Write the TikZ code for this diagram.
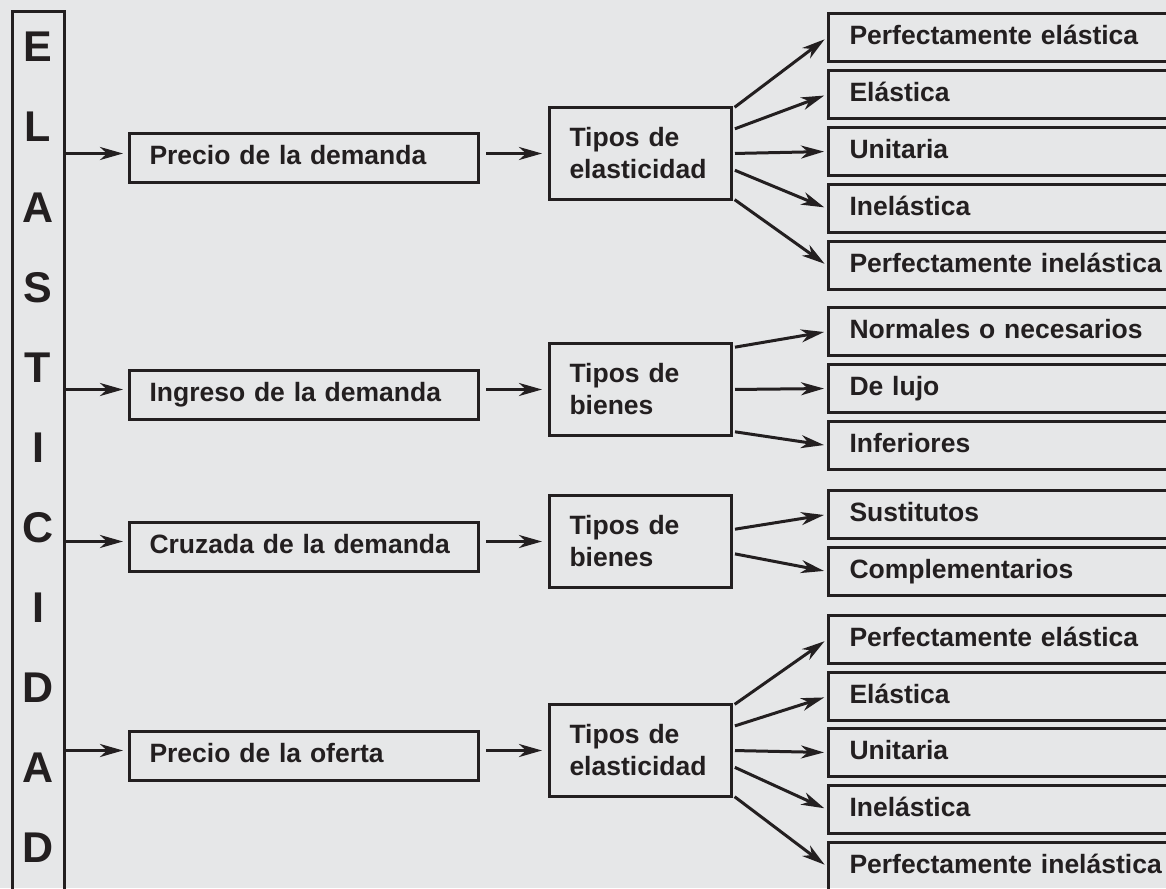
\documentclass[tikz,border=0pt]{standalone}
\usepackage{fontspec}
\setmainfont{Liberation Sans}
\usetikzlibrary{arrows.meta,calc}
\definecolor{bg}{HTML}{E6E7E8}
\definecolor{ink}{HTML}{231F20}
\begin{document}
\begin{tikzpicture}[x=1pt,y=-1pt,
  every node/.style={font=\fontsize{26.5}{32}\selectfont\bfseries, text=ink},
  box/.style={draw=ink, line width=3pt, rectangle, inner ysep=0pt},
  lvlone/.style={box, anchor=north west, inner xsep=20pt, text width=309pt, minimum height=49pt, align=left, text height=19pt, text depth=5.5pt},
  tipos/.style={box, anchor=north west, inner xsep=20pt, text width=142pt, minimum height=92pt, align=left},
  leaf/.style={box, anchor=north west, inner xsep=21pt, text width=321pt, minimum height=48pt, align=left, text height=19pt, text depth=5.5pt},
  letter/.style={font=\fontsize{43}{43}\selectfont\bfseries, anchor=base, inner sep=0pt},
  arr/.style={draw=ink, line width=3pt, -{Stealth[length=23pt,width=13pt,inset=7pt]}}
]
\useasboundingbox (0,0) rectangle (1166,888);
\clip (0,0) rectangle (1166,888);
\fill[bg] (0,0) rectangle (1166,888);

% left vertical box
\node[box, inner sep=0pt, minimum width=52pt, minimum height=883pt] (L) at (38,453.5) {};
\foreach \c [count=\i] in {E,L,A,S,T,I,C,I,D,A,D}
  \node[letter] (l\i) at (38,{62+80*(\i-1)}) {\c};

% level one
\node[lvlone] (b1) at (128,132) {Precio de la demanda};
\node[lvlone] (b2) at (128,369) {Ingreso de la demanda};
\node[lvlone] (b3) at (128,521) {Cruzada de la demanda};
\node[lvlone] (b4) at (128,730) {Precio de la oferta};

% level two
\node[tipos] (t1) at (548,106) {Tipos de\\elasticidad};
\node[tipos] (t2) at (548,342) {Tipos de\\bienes};
\node[tipos] (t3) at (548,494) {Tipos de\\bienes};
\node[tipos] (t4) at (548,703) {Tipos de\\elasticidad};

% leaves group 1
\node[leaf] (p1) at (827,12) {Perfectamente elástica};
\node[leaf] (p2) at (827,69) {Elástica};
\node[leaf] (p3) at (827,126) {Unitaria};
\node[leaf] (p4) at (827,183) {Inelástica};
\node[leaf] (p5) at (827,240) {Perfectamente inelástica};
% group 2
\node[leaf] (q1) at (827,306) {Normales o necesarios};
\node[leaf] (q2) at (827,363) {De lujo};
\node[leaf] (q3) at (827,420) {Inferiores};
% group 3
\node[leaf] (s1) at (827,489) {Sustitutos};
\node[leaf] (s2) at (827,546) {Complementarios};
% group 4
\node[leaf] (o1) at (827,614) {Perfectamente elástica};
\node[leaf] (o2) at (827,671) {Elástica};
\node[leaf] (o3) at (827,727) {Unitaria};
\node[leaf] (o4) at (827,784) {Inelástica};
\node[leaf] (o5) at (827,841) {Perfectamente inelástica};

% arrows from left box
\foreach \b/\t in {b1/t1,b2/t2,b3/t3,b4/t4}{
  \draw[arr, shorten >=5pt] (L.east |- \t.west) -- (\b.west |- \t.west);
  \draw[arr, shorten <=6pt, shorten >=6pt] (\b.east |- \t.west) -- (\t.west);
}

% fans
\foreach \t/\a/\b/\c/\d/\e in {t1/p1/p2/p3/p4/p5, t4/o1/o2/o3/o4/o5}{
  \draw[arr, shorten <=2pt, shorten >=3pt] ([yshift=45pt]\t.east) -- (\a.west);
  \draw[arr, shorten <=2pt, shorten >=3pt] ([yshift=24pt]\t.east) -- (\b.west);
  \draw[arr, shorten <=2pt, shorten >=3pt] (\t.east) -- (\c.west);
  \draw[arr, shorten <=2pt, shorten >=3pt] ([yshift=-16pt]\t.east) -- (\d.west);
  \draw[arr, shorten <=2pt, shorten >=3pt] ([yshift=-45pt]\t.east) -- (\e.west);
}
\draw[arr, shorten <=2pt, shorten >=3pt] ([yshift=42pt]t2.east) -- (q1.west);
\draw[arr, shorten <=2pt, shorten >=3pt] (t2.east) -- (q2.west);
\draw[arr, shorten <=2pt, shorten >=3pt] ([yshift=-42pt]t2.east) -- (q3.west);
\draw[arr, shorten <=2pt, shorten >=3pt] ([yshift=12pt]t3.east) -- (s1.west);
\draw[arr, shorten <=2pt, shorten >=3pt] ([yshift=-12pt]t3.east) -- (s2.west);
\end{tikzpicture}
\end{document}
